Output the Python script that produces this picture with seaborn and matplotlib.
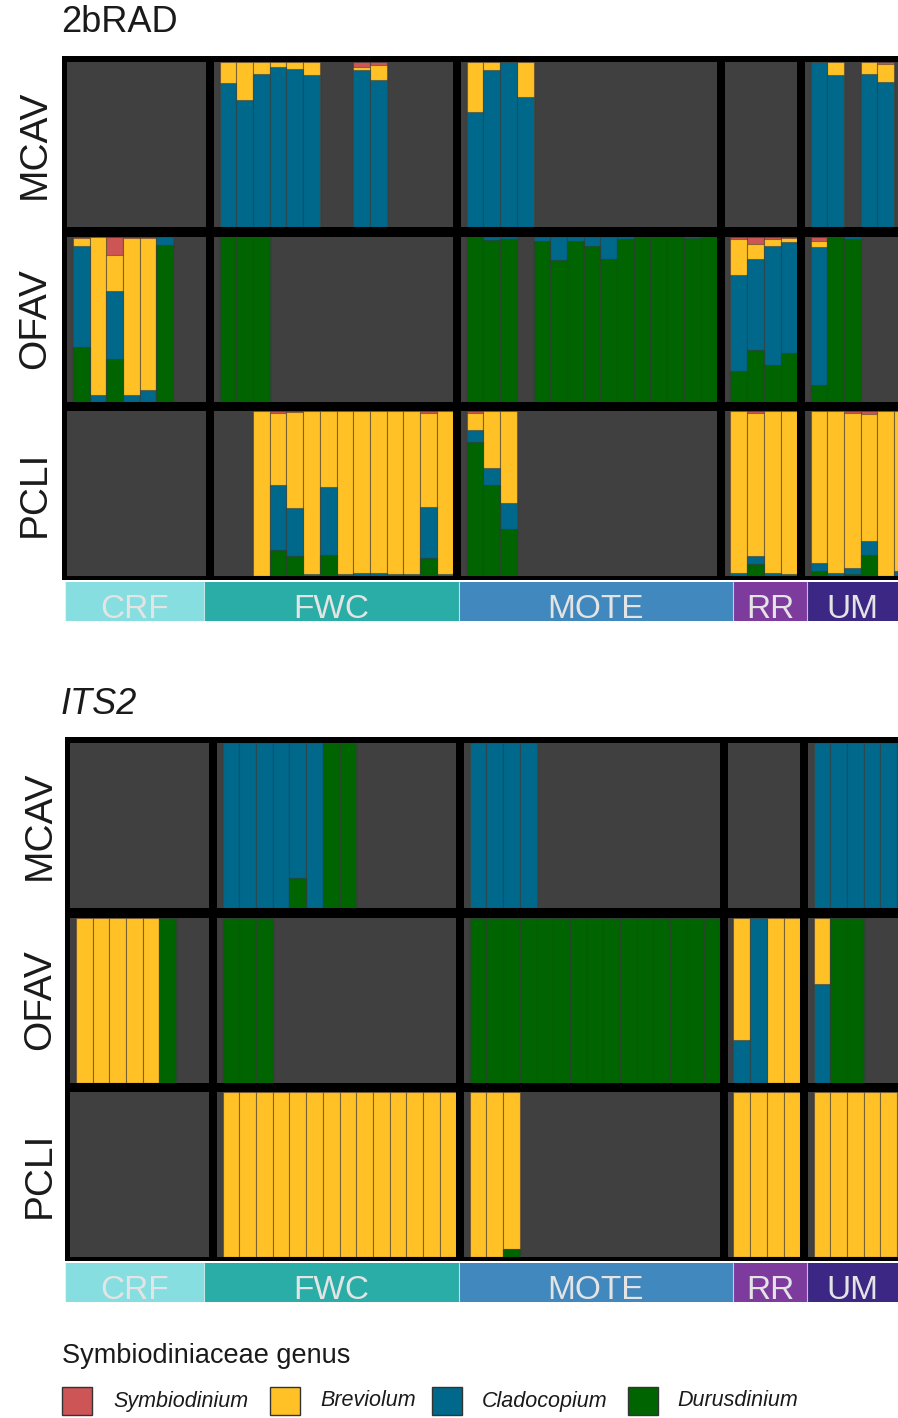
import numpy as np
import pandas as pd
import matplotlib
matplotlib.use("Agg")
import matplotlib.pyplot as plt
from matplotlib.patches import Rectangle
import seaborn as sns

sns.set_style("white")
plt.rcParams["font.family"] = ["Liberation Sans", "DejaVu Sans"]

# ---------------------------------------------------------------- data
GENERA = ["Symbiodinium", "Breviolum", "Cladocopium", "Durusdinium"]
GENUS_COLORS = ["#CD5555", "#FFC125", "#00688B", "#006400"]
SPECIES = ["MCAV", "OFAV", "PCLI"]
SITES = ["CRF", "FWC", "MOTE", "RR", "UM"]
SITE_SLOTS = [8, 14, 15, 4, 6]
SITE_COLORS = ["#86DEE0", "#2AADA6", "#4088BE", "#7D3B9E", "#3C2884"]

# (site, colony slot, Symbiodinium, Breviolum, Cladocopium, Durusdinium)
RAD_MCAV = [
    ("FWC", 1, 0.00, 0.13, 0.87, 0.00), ("FWC", 2, 0.00, 0.23, 0.77, 0.00),
    ("FWC", 3, 0.00, 0.07, 0.93, 0.00), ("FWC", 4, 0.00, 0.03, 0.97, 0.00),
    ("FWC", 5, 0.00, 0.04, 0.96, 0.00), ("FWC", 6, 0.00, 0.08, 0.92, 0.00),
    ("FWC", 9, 0.03, 0.02, 0.95, 0.00), ("FWC", 10, 0.02, 0.09, 0.89, 0.00),
    ("MOTE", 1, 0.00, 0.30, 0.70, 0.00), ("MOTE", 2, 0.00, 0.05, 0.95, 0.00),
    ("MOTE", 3, 0.00, 0.00, 1.00, 0.00), ("MOTE", 4, 0.00, 0.21, 0.79, 0.00),
    ("UM", 1, 0.00, 0.00, 1.00, 0.00), ("UM", 2, 0.00, 0.08, 0.92, 0.00),
    ("UM", 4, 0.00, 0.07, 0.93, 0.00), ("UM", 5, 0.01, 0.11, 0.88, 0.00),
]
RAD_OFAV = [
    ("CRF", 1, 0.01, 0.05, 0.61, 0.33), ("CRF", 2, 0.00, 0.96, 0.04, 0.00),
    ("CRF", 3, 0.11, 0.22, 0.41, 0.26), ("CRF", 4, 0.01, 0.95, 0.04, 0.00),
    ("CRF", 5, 0.01, 0.92, 0.07, 0.00), ("CRF", 6, 0.00, 0.00, 0.05, 0.95),
    ("FWC", 1, 0.00, 0.00, 0.00, 1.00), ("FWC", 2, 0.00, 0.00, 0.00, 1.00),
    ("FWC", 3, 0.00, 0.00, 0.00, 1.00),
    ("MOTE", 1, 0.00, 0.00, 0.00, 1.00), ("MOTE", 2, 0.00, 0.00, 0.02, 0.98),
    ("MOTE", 3, 0.00, 0.00, 0.015, 0.985), ("MOTE", 5, 0.00, 0.00, 0.025, 0.975),
    ("MOTE", 6, 0.00, 0.00, 0.14, 0.86), ("MOTE", 7, 0.00, 0.00, 0.025, 0.975),
    ("MOTE", 8, 0.00, 0.00, 0.055, 0.945), ("MOTE", 9, 0.005, 0.00, 0.13, 0.865),
    ("MOTE", 10, 0.00, 0.00, 0.015, 0.985), ("MOTE", 11, 0.00, 0.00, 0.00, 1.00),
    ("MOTE", 12, 0.00, 0.00, 0.00, 1.00), ("MOTE", 13, 0.00, 0.00, 0.00, 1.00),
    ("MOTE", 14, 0.00, 0.00, 0.01, 0.99), ("MOTE", 15, 0.00, 0.00, 0.00, 1.00),
    ("RR", 1, 0.015, 0.22, 0.58, 0.185), ("RR", 2, 0.045, 0.09, 0.55, 0.315),
    ("RR", 3, 0.015, 0.045, 0.72, 0.22), ("RR", 4, 0.01, 0.025, 0.67, 0.295),
    ("UM", 1, 0.03, 0.035, 0.835, 0.10), ("UM", 2, 0.00, 0.00, 0.00, 1.00),
    ("UM", 3, 0.00, 0.00, 0.015, 0.985),
]
RAD_PCLI = [
    ("FWC", 3, 0.00, 1.00, 0.00, 0.00), ("FWC", 4, 0.015, 0.435, 0.39, 0.16),
    ("FWC", 5, 0.005, 0.585, 0.29, 0.12), ("FWC", 6, 0.00, 0.99, 0.01, 0.00),
    ("FWC", 7, 0.00, 0.46, 0.41, 0.13), ("FWC", 8, 0.00, 0.99, 0.01, 0.00),
    ("FWC", 9, 0.00, 0.98, 0.02, 0.00), ("FWC", 10, 0.00, 0.98, 0.02, 0.00),
    ("FWC", 11, 0.00, 0.99, 0.01, 0.00), ("FWC", 12, 0.00, 0.99, 0.01, 0.00),
    ("FWC", 13, 0.015, 0.565, 0.31, 0.11), ("FWC", 14, 0.00, 0.99, 0.01, 0.00),
    ("MOTE", 1, 0.015, 0.10, 0.07, 0.815), ("MOTE", 2, 0.00, 0.345, 0.105, 0.55),
    ("MOTE", 3, 0.00, 0.56, 0.155, 0.285),
    ("RR", 1, 0.00, 0.98, 0.02, 0.00), ("RR", 2, 0.01, 0.87, 0.05, 0.07),
    ("RR", 3, 0.00, 0.98, 0.02, 0.00), ("RR", 4, 0.00, 0.99, 0.01, 0.00),
    ("UM", 1, 0.00, 0.92, 0.05, 0.03), ("UM", 2, 0.00, 0.98, 0.02, 0.00),
    ("UM", 3, 0.01, 0.94, 0.04, 0.01), ("UM", 4, 0.02, 0.77, 0.085, 0.125),
    ("UM", 5, 0.00, 1.00, 0.00, 0.00), ("UM", 6, 0.00, 0.97, 0.03, 0.00),
]

ITS2_MCAV = [
    ("FWC", 1, 0, 0, 1.00, 0.00), ("FWC", 2, 0, 0, 1.00, 0.00),
    ("FWC", 3, 0, 0, 1.00, 0.00), ("FWC", 4, 0, 0, 1.00, 0.00),
    ("FWC", 5, 0, 0, 0.82, 0.18), ("FWC", 6, 0, 0, 1.00, 0.00),
    ("FWC", 7, 0, 0, 0.00, 1.00), ("FWC", 8, 0, 0, 0.00, 1.00),
    ("MOTE", 1, 0, 0, 1.00, 0.00), ("MOTE", 2, 0, 0, 1.00, 0.00),
    ("MOTE", 3, 0, 0, 1.00, 0.00), ("MOTE", 4, 0, 0, 1.00, 0.00),
    ("UM", 1, 0, 0, 1.00, 0.00), ("UM", 2, 0, 0, 1.00, 0.00),
    ("UM", 3, 0, 0, 1.00, 0.00), ("UM", 4, 0, 0, 1.00, 0.00),
    ("UM", 5, 0, 0, 1.00, 0.00), ("UM", 6, 0, 0, 1.00, 0.00),
]
ITS2_OFAV = [
    ("CRF", 1, 0, 1.00, 0, 0), ("CRF", 2, 0, 1.00, 0, 0), ("CRF", 3, 0, 1.00, 0, 0),
    ("CRF", 4, 0, 1.00, 0, 0), ("CRF", 5, 0, 1.00, 0, 0), ("CRF", 6, 0, 0, 0, 1.00),
    ("FWC", 1, 0, 0, 0, 1.00), ("FWC", 2, 0, 0, 0, 1.00), ("FWC", 3, 0, 0, 0, 1.00),
    ("MOTE", 1, 0, 0, 0, 1.00), ("MOTE", 2, 0, 0, 0, 1.00), ("MOTE", 3, 0, 0, 0, 1.00),
    ("MOTE", 4, 0, 0, 0, 1.00), ("MOTE", 5, 0, 0, 0, 1.00), ("MOTE", 6, 0, 0, 0, 1.00),
    ("MOTE", 7, 0, 0, 0, 1.00), ("MOTE", 8, 0, 0, 0, 1.00), ("MOTE", 9, 0, 0, 0, 1.00),
    ("MOTE", 10, 0, 0, 0, 1.00), ("MOTE", 11, 0, 0, 0, 1.00), ("MOTE", 12, 0, 0, 0, 1.00),
    ("MOTE", 13, 0, 0, 0, 1.00), ("MOTE", 14, 0, 0, 0, 1.00), ("MOTE", 15, 0, 0, 0, 1.00),
    ("RR", 1, 0, 0.745, 0.255, 0), ("RR", 2, 0, 0, 1.00, 0),
    ("RR", 3, 0, 1.00, 0, 0), ("RR", 4, 0, 1.00, 0, 0),
    ("UM", 1, 0, 0.40, 0.60, 0), ("UM", 2, 0, 0, 0, 1.00), ("UM", 3, 0, 0, 0, 1.00),
]
ITS2_PCLI = [
    ("FWC", 1, 0, 1, 0, 0), ("FWC", 2, 0, 1, 0, 0), ("FWC", 3, 0, 1, 0, 0),
    ("FWC", 4, 0, 1, 0, 0), ("FWC", 5, 0, 1, 0, 0), ("FWC", 6, 0, 1, 0, 0),
    ("FWC", 7, 0, 1, 0, 0), ("FWC", 8, 0, 1, 0, 0), ("FWC", 9, 0, 1, 0, 0),
    ("FWC", 10, 0, 1, 0, 0), ("FWC", 11, 0, 1, 0, 0), ("FWC", 12, 0, 1, 0, 0),
    ("FWC", 13, 0, 1, 0, 0), ("FWC", 14, 0, 1, 0, 0),
    ("MOTE", 1, 0, 1, 0, 0), ("MOTE", 2, 0, 1, 0, 0), ("MOTE", 3, 0, 0.95, 0, 0.05),
    ("RR", 1, 0, 1, 0, 0), ("RR", 2, 0, 1, 0, 0), ("RR", 3, 0, 1, 0, 0), ("RR", 4, 0, 1, 0, 0),
    ("UM", 1, 0, 1, 0, 0), ("UM", 2, 0, 1, 0, 0), ("UM", 3, 0, 1, 0, 0),
    ("UM", 4, 0, 1, 0, 0), ("UM", 5, 0, 1, 0, 0), ("UM", 6, 0, 1, 0, 0),
]

# ---------------------------------------------------------------- layout
W, H = 898, 1418
PANEL_BG = "#404040"
BAR_EDGE = (0.22, 0.22, 0.22, 0.5)
SLOT_PX = 16.7
ROW_H = 165
ROW_GAP = 9.5
COL_GAP = 7.4
BAND_EDGES = [65, 204, 459, 733, 807, 930]

fig = plt.figure(figsize=(W / 100, H / 100), dpi=100)
fig.patch.set_facecolor("white")


def px_rect(x, y, w, h):
    """Figure-fraction rectangle from pixel left/top/width/height."""
    return [x / W, 1 - (y + h) / H, w / W, h / H]


def to_long(records, species):
    df = pd.DataFrame(records, columns=["site", "slot"] + GENERA)
    df["species"] = species
    df["slot_lab"] = "s" + (df["slot"] - 1).astype(str)
    # cumulative tops, stacked bottom-up: Durusdinium, Cladocopium, Breviolum, Symbiodinium
    df["top_Durusdinium"] = df["Durusdinium"]
    df["top_Cladocopium"] = df["top_Durusdinium"] + df["Cladocopium"]
    df["top_Breviolum"] = df["top_Cladocopium"] + df["Breviolum"]
    df["top_Symbiodinium"] = df["top_Breviolum"] + df["Symbiodinium"]
    return df


def draw_dataset(title, italic, records_by_species, x0, top, frame_left, label_x, band_top):
    df = pd.concat([to_long(r, s) for s, r in zip(SPECIES, records_by_species)])

    grid_bottom = top + 3 * ROW_H + 2 * ROW_GAP
    fig.add_artist(Rectangle((frame_left / W, 1 - (grid_bottom + 4) / H),
                             (W + 40 - frame_left) / W, (grid_bottom + 4 - (top - 6)) / H,
                             transform=fig.transFigure, facecolor="black",
                             edgecolor="none", zorder=-1))

    fig.text(61 / W, 1 - (top - 39) / H, title, fontsize=26, color="#1a1a1a",
             ha="left", va="center", style="italic" if italic else "normal")

    for r, sp in enumerate(SPECIES):
        y_top = top + r * (ROW_H + ROW_GAP)
        fig.text(label_x / W, 1 - (y_top + ROW_H / 2) / H, sp, rotation=90,
                 fontsize=28, color="#1a1a1a", ha="center", va="center")
        x = x0
        for c, site in enumerate(SITES):
            n = SITE_SLOTS[c]
            w_px = (n + 0.35) * SLOT_PX
            ax = fig.add_axes(px_rect(x, y_top, w_px, ROW_H))
            ax.set_facecolor(PANEL_BG)
            sub = df[(df["species"] == sp) & (df["site"] == site)]
            if len(sub):
                order = ["s%d" % i for i in range(n)]
                for genus, color in zip(GENERA, GENUS_COLORS):
                    sns.barplot(data=sub, x="slot_lab", y="top_" + genus, order=order,
                                color=color, saturation=1, width=1.0, errorbar=None,
                                edgecolor=BAR_EDGE, linewidth=0.8, ax=ax)
            ax.set_xlim(-0.85, n - 0.5)
            ax.set_ylim(0, 1.0)
            ax.set_xticks([])
            ax.set_yticks([])
            ax.set_xlabel("")
            ax.set_ylabel("")
            for s in ax.spines.values():
                s.set_visible(False)
            x += w_px + COL_GAP

    # site colour bands under the grid
    bax = fig.add_axes(px_rect(BAND_EDGES[0], band_top, BAND_EDGES[-1] - BAND_EDGES[0], 39))
    for site, color, lo, hi in zip(SITES, SITE_COLORS, BAND_EDGES[:-1], BAND_EDGES[1:]):
        bax.axvspan(lo, hi, color=color, lw=0)
        bax.axvline(lo, color="white", lw=0.8, alpha=0.7)
        cx = (lo + min(hi, W)) / 2 if site == "UM" else (lo + hi) / 2
        bax.text(cx, 0.70, site, ha="center", va="top", fontsize=24,
                 color="#e4e4e4", clip_on=True)
    bax.set_xlim(BAND_EDGES[0], BAND_EDGES[-1])
    bax.set_ylim(0, 1)
    bax.set_axis_off()


draw_dataset("2bRAD", False, [RAD_MCAV, RAD_OFAV, RAD_PCLI],
             x0=67, top=62, frame_left=62, label_x=35, band_top=582)
draw_dataset("ITS2", True, [ITS2_MCAV, ITS2_OFAV, ITS2_PCLI],
             x0=70, top=743, frame_left=65, label_x=40, band_top=1263)

# ---------------------------------------------------------------- legend
fig.text(62 / W, 1 - 1356 / H, "Symbiodiniaceae genus", fontsize=19.5,
         color="#1a1a1a", ha="left", va="center")
swatch_x = [62, 270, 432, 628]
label_x = [113, 320, 482, 677]
for genus, color, sx, lx in zip(GENERA, GENUS_COLORS, swatch_x, label_x):
    fig.add_artist(Rectangle((sx / W, 1 - 1415 / H), 30 / W, 28 / H,
                             transform=fig.transFigure, facecolor=color,
                             edgecolor="#333333", lw=1.0))
    fig.text(lx / W, 1 - 1401 / H, genus, fontsize=15.5, style="italic",
             color="#1a1a1a", ha="left", va="center")

fig.savefig("out.png", dpi=100)
